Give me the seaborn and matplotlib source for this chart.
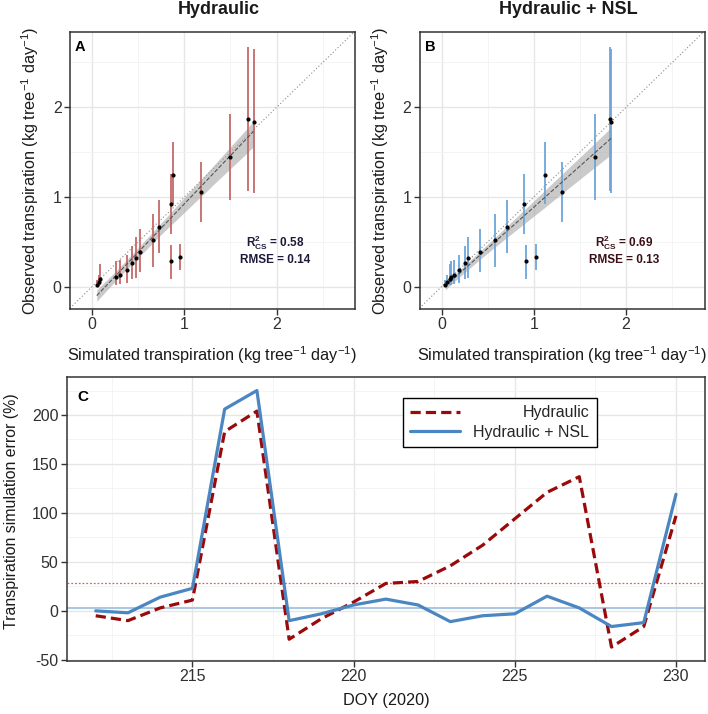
import numpy as np
import pandas as pd
import matplotlib
matplotlib.use("Agg")
import matplotlib.pyplot as plt
import seaborn as sns
from matplotlib.ticker import MultipleLocator

# ---------------- data ----------------
# observed daily transpiration (kg tree-1 day-1) and its uncertainty range
obs = [0.02, 0.05, 0.08, 0.11, 0.13, 0.19, 0.26, 0.28, 0.32, 0.33,
       0.39, 0.52, 0.67, 0.92, 1.05, 1.25, 1.45, 1.84, 1.87]
obs_lo = [0.00, 0.01, 0.02, 0.02, 0.03, 0.04, 0.08, 0.08, 0.10, 0.19,
          0.16, 0.22, 0.38, 0.59, 0.72, 0.92, 0.97, 1.04, 1.07]
obs_hi = [0.07, 0.13, 0.25, 0.28, 0.30, 0.35, 0.45, 0.46, 0.55, 0.48,
          0.64, 0.81, 0.97, 1.26, 1.39, 1.61, 1.93, 2.65, 2.67]
# simulated daily transpiration
sim_hydraulic = [0.05, 0.07, 0.08, 0.26, 0.30, 0.38, 0.43, 0.85, 0.48, 0.95,
                 0.52, 0.66, 0.73, 0.86, 1.18, 0.88, 1.49, 1.75, 1.69]
sim_nsl = [0.04, 0.06, 0.09, 0.10, 0.13, 0.19, 0.25, 0.91, 0.29, 1.02,
           0.42, 0.58, 0.71, 0.89, 1.31, 1.12, 1.66, 1.84, 1.82]
r2_labels = ["0.58", "0.69"]
rmse_labels = ["0.14", "0.13"]
panel_titles = ["Hydraulic", "Hydraulic + NSL"]

# transpiration simulation error (%) by day of year
doy = list(range(212, 231))
err_hydraulic = [-5, -10, 3, 11, 183, 204, -29, -8, 9, 28, 30, 46, 67, 94,
                 121, 137, -37, -16, 97]
err_nsl = [0, -2, 14, 23, 206, 225, -10, -3, 6, 12, 6, -11, -5, -3,
           15, 3, -16, -12, 119]
ref_levels = [28, 2.5]  # median error levels (Hydraulic, Hydraulic + NSL)
model_names = ["Hydraulic", "Hydraulic + NSL"]

# ---------------- style ----------------
sns.set_theme(style="white")
plt.rcParams["font.family"] = ["Liberation Sans", "DejaVu Sans"]
plt.rcParams["mathtext.fontset"] = "custom"
plt.rcParams["mathtext.rm"] = "Liberation Sans"
plt.rcParams["mathtext.it"] = "Liberation Sans:italic"
plt.rcParams["mathtext.bf"] = "Liberation Sans:bold"
plt.rcParams["axes.unicode_minus"] = False

FW, FH = 708, 714
fig = plt.figure(figsize=(FW / 100, FH / 100), dpi=100)


def px_axes(left, top, right, bottom):
    return fig.add_axes([left / FW, 1 - bottom / FH, (right - left) / FW, (bottom - top) / FH])


def style_axes(ax):
    for s in ax.spines.values():
        s.set_color("#333333")
        s.set_linewidth(1.1)
    ax.grid(which="major", color="#e6e6e6", lw=1.0)
    ax.grid(which="minor", color="#f2f2f2", lw=0.6)
    ax.set_axisbelow(True)
    ax.tick_params(which="major", direction="out", length=4, width=1.0,
                   color="#333333", labelsize=11.5, labelcolor="#303030",
                   bottom=True, left=True, pad=2)
    ax.tick_params(which="minor", length=0)


xlab = "Simulated transpiration (kg tree$^{-1}$ day$^{-1}$)"
ylab = "Observed transpiration (kg tree$^{-1}$ day$^{-1}$)"

axA = px_axes(70, 32, 355, 309)
axB = px_axes(419.5, 32, 704.5, 309)
bar_colors = ["#c46a6a", "#6ea6da"]
text_colors = ["#201a3a", "#3a1016"]
letters = ["A", "B"]

for i, (ax, sim) in enumerate(zip([axA, axB], [sim_hydraulic, sim_nsl])):
    ax.set_xlim(-0.24, 2.85)
    ax.set_ylim(-0.25, 2.84)
    lims = np.array([-0.5, 3.2])
    ax.plot(lims, lims, ls=(0, (1, 2)), color="#8a8a8a", lw=0.8, zorder=1)
    ax.vlines(sim, obs_lo, obs_hi, color=bar_colors[i], lw=1.3, zorder=2)
    sns.regplot(x=np.array(sim), y=np.array(obs), ax=ax, scatter=False, ci=80,
                seed=3, truncate=True,
                line_kws=dict(ls="--", lw=0.8, color="#555555"))
    band = ax.collections[-1]
    band.set_facecolor("#a0a0a0")
    band.set_alpha(0.55)
    band.set_linewidth(0)
    sns.scatterplot(x=sim, y=obs, ax=ax, color="black", s=9, linewidth=0, zorder=4)
    ax.xaxis.set_major_locator(MultipleLocator(1))
    ax.yaxis.set_major_locator(MultipleLocator(1))
    ax.xaxis.set_minor_locator(MultipleLocator(0.5))
    ax.yaxis.set_minor_locator(MultipleLocator(0.5))
    style_axes(ax)
    ax.set_xlabel(xlab, fontsize=11.7, color="#1a1a1a")
    ax.set_ylabel(ylab, fontsize=11.7, color="#1a1a1a")
    ax.xaxis.set_label_coords(0.5, -0.128)
    ax.yaxis.set_label_coords(-0.10, 0.5)
    ax.text(0.018, 0.972, letters[i], transform=ax.transAxes, ha="left", va="top",
            fontsize=10.5, fontweight="bold", color="black")
    ax.text(1.98, 0.49, r"$\mathbf{R}_{\mathbf{CS}}^{\mathbf{2}}$ = " + r2_labels[i],
            ha="center", va="center", fontsize=8.5, fontweight="bold", color=text_colors[i])
    ax.text(1.98, 0.295, "RMSE = " + rmse_labels[i],
            ha="center", va="center", fontsize=8.5, fontweight="bold", color=text_colors[i])

fig.text(219 / FW, 1 - 9 / FH, panel_titles[0], ha="center", va="center",
         fontsize=13, fontweight="bold", color="#1a1a1a")
fig.text(568 / FW, 1 - 9 / FH, panel_titles[1], ha="center", va="center",
         fontsize=13, fontweight="bold", color="#1a1a1a")

# ---------------- panel C ----------------
axC = px_axes(66.7, 377.3, 705, 661)
df = pd.DataFrame({
    "DOY": doy + doy,
    "err": err_hydraulic + err_nsl,
    "model": [model_names[0]] * len(doy) + [model_names[1]] * len(doy),
})
line_colors = {model_names[0]: "#9b0a0a", model_names[1]: "#4a86c1"}
axC.axhline(ref_levels[0], color="#e06060", lw=0.9, ls=(0, (1.5, 1.5)), zorder=1)
axC.axhline(ref_levels[1], color="#aac7e3", lw=1.5, zorder=1)
sns.lineplot(data=df, x="DOY", y="err", hue="model", style="model",
             hue_order=model_names, style_order=model_names,
             palette=line_colors,
             dashes={model_names[0]: (3.2, 1.6), model_names[1]: ""},
             lw=2.3, ax=axC, zorder=3)
axC.set_xlim(211.1, 230.9)
axC.set_ylim(-51.2, 238.5)
axC.xaxis.set_major_locator(MultipleLocator(5))
axC.xaxis.set_minor_locator(MultipleLocator(2.5))
axC.yaxis.set_major_locator(MultipleLocator(50))
axC.yaxis.set_minor_locator(MultipleLocator(25))
style_axes(axC)
axC.set_xlabel("DOY (2020)", fontsize=11.7, color="#1a1a1a")
axC.set_ylabel("Transpiration simulation error (%)", fontsize=11.4, color="#1a1a1a")
axC.xaxis.set_label_coords(0.5, -0.113)
axC.yaxis.set_label_coords(-0.074, 0.53)
axC.text(0.016, 0.955, "C", transform=axC.transAxes, ha="left", va="top",
         fontsize=11, fontweight="bold", color="black")

leg0 = axC.get_legend()
handles = list(leg0.legend_handles)
labels = [t.get_text() for t in leg0.get_texts()]
pairs = [(h, l) for h, l in zip(handles, labels) if l in model_names]
leg0.remove()
for h, _ in pairs:
    h.set_linewidth(2.3)
leg = axC.legend([p[0] for p in pairs], [p[1] for p in pairs],
                 loc="upper left", bbox_to_anchor=(0.527, 0.927),
                 frameon=True, fancybox=False, edgecolor="black", framealpha=1,
                 fontsize=11.5, handlelength=3.1, handletextpad=0.85,
                 labelspacing=0.3, borderpad=0.45, borderaxespad=0)
leg.get_frame().set_linewidth(1.0)

# right-align legend labels
fig.canvas.draw()
renderer = fig.canvas.get_renderer()
texts = leg.get_texts()
widths = [t.get_window_extent(renderer).width for t in texts]
wmax = max(widths)
for t, w in zip(texts, widths):
    t.set_x(wmax - w)

fig.savefig("out.png", dpi=100)
